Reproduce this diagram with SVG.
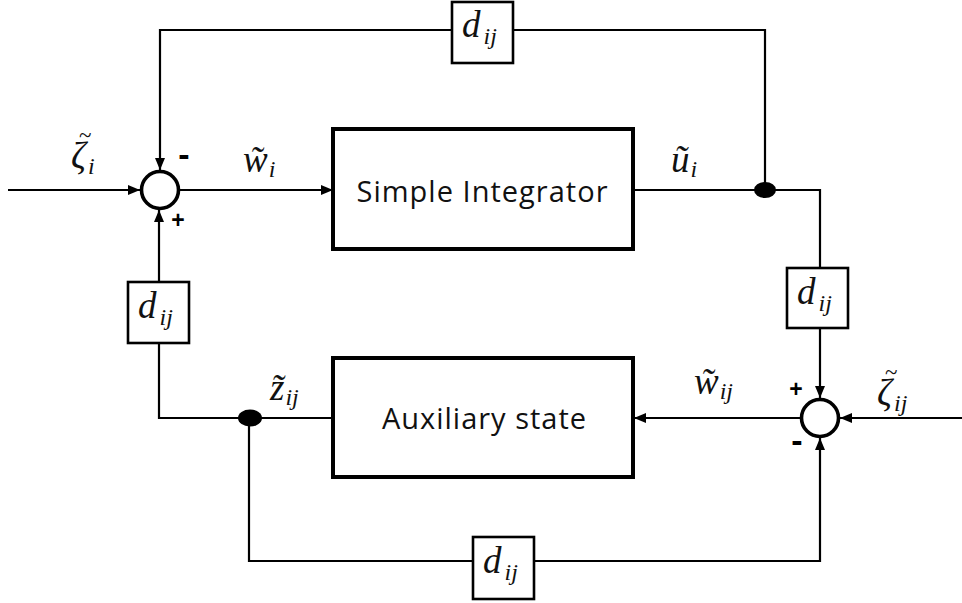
<svg xmlns="http://www.w3.org/2000/svg" width="962" height="603" viewBox="0 0 962 603">
  <defs>
    <marker id="arrow" markerUnits="userSpaceOnUse" markerWidth="13" markerHeight="11" refX="12" refY="5" orient="auto">
      <path d="M0,0 L12,5 L0,10 z" fill="#000"/>
    </marker>
    <style>
      .wire { fill: none; stroke: #000; stroke-width: 2.2; }
      .arr { marker-end: url(#arrow); }
      .block { fill: #fff; stroke: #000; stroke-width: 4; }
      .gain { fill: #fff; stroke: #000; stroke-width: 2.6; }
      .sum { fill: #fff; stroke: #000; stroke-width: 3.6; }
      .dot { fill: #000; }
      .btxt { font-family: "Open Sans", "Liberation Sans", sans-serif; font-size: 29px; fill: #111; text-anchor: middle; }
      .m { font-family: "Liberation Serif", "DejaVu Serif", serif; font-style: italic; font-size: 37px; fill: #111; }
      .sub { font-size: 24px; }
      .acc { font-style: normal; font-size: 23px; }
      .sign { font-family: "Liberation Sans", Arial, sans-serif; font-weight: bold; fill: #000; text-anchor: middle; }
    </style>
  </defs>

  <!-- signal lines -->
  <g id="connectors">
    <path class="wire arr" d="M8,190 H140"/>
    <path class="wire arr" d="M180,190 H333"/>
    <path class="wire" d="M633,190 H820 V268"/>
    <path class="wire" d="M765,190 V30 H513"/>
    <path class="wire arr" d="M452,30 H160 V170"/>
    <path class="wire arr" d="M820,328 V398"/>
    <path class="wire arr" d="M962,418 H840"/>
    <path class="wire arr" d="M800,418 H634"/>
    <path class="wire" d="M333,418 H159 V343"/>
    <path class="wire arr" d="M159,282 V210"/>
    <path class="wire" d="M249,418 V561 H473"/>
    <path class="wire arr" d="M534,561 H820 V438"/>
  </g>

  <!-- branch points -->
  <g id="junction-u">
    <ellipse class="dot" cx="765" cy="190" rx="11" ry="8"/>
  </g>
  <g id="junction-z">
    <ellipse class="dot" cx="250" cy="418" rx="12" ry="8.5"/>
  </g>

  <!-- summing junctions -->
  <g id="sum-left">
    <circle class="sum" cx="160" cy="190" r="18.5"/>
    <text class="sign" x="184" y="166" font-size="34">-</text>
    <text class="sign" x="178" y="228" font-size="23">+</text>
  </g>
  <g id="sum-right">
    <circle class="sum" cx="820" cy="418" r="18.5"/>
    <text class="sign" x="796" y="397" font-size="23">+</text>
    <text class="sign" x="797" y="452" font-size="34">-</text>
  </g>

  <!-- main blocks -->
  <g id="simple-integrator">
    <rect class="block" x="333" y="129" width="300" height="120"/>
    <text class="btxt" x="482" y="202" textLength="251" lengthAdjust="spacing">Simple Integrator</text>
  </g>
  <g id="auxiliary-state">
    <rect class="block" x="333" y="358" width="300" height="119"/>
    <text class="btxt" x="484" y="429" textLength="204" lengthAdjust="spacing">Auxiliary state</text>
  </g>

  <!-- gain blocks -->
  <g id="gain-top">
    <rect class="gain" x="452" y="2" width="61" height="61"/>
    <text class="m" x="462" y="37">d<tspan class="sub" dx="3" dy="7">ij</tspan></text>
  </g>
  <g id="gain-left">
    <rect class="gain" x="128" y="282" width="61" height="61"/>
    <text class="m" x="138" y="318">d<tspan class="sub" dx="3" dy="7">ij</tspan></text>
  </g>
  <g id="gain-right">
    <rect class="gain" x="787" y="268" width="61" height="60"/>
    <text class="m" x="797" y="304">d<tspan class="sub" dx="3" dy="7">ij</tspan></text>
  </g>
  <g id="gain-bottom">
    <rect class="gain" x="473" y="537" width="61" height="62"/>
    <text class="m" x="483" y="573">d<tspan class="sub" dx="3" dy="7">ij</tspan></text>
  </g>

  <!-- signal labels; the zeta tilde is set as a raised accent -->
  <g id="labels">
    <text class="m" y="168"><tspan x="71">ζ</tspan><tspan class="acc" x="79" y="143">~</tspan><tspan class="sub" x="88" y="174">i</tspan></text>
    <text class="m" x="243" y="172">w&#771;<tspan class="sub" dx="1" dy="5">i</tspan></text>
    <text class="m" x="671" y="172">u&#771;<tspan class="sub" dx="1" dy="5">i</tspan></text>
    <text class="m" x="270" y="400">z&#771;<tspan class="sub" dx="1" dy="5">ij</tspan></text>
    <text class="m" x="694" y="394">w&#771;<tspan class="sub" dx="1" dy="5">ij</tspan></text>
    <text class="m" y="405"><tspan x="877">ζ</tspan><tspan class="acc" x="885" y="380">~</tspan><tspan class="sub" x="894" y="411">ij</tspan></text>
  </g>
</svg>
